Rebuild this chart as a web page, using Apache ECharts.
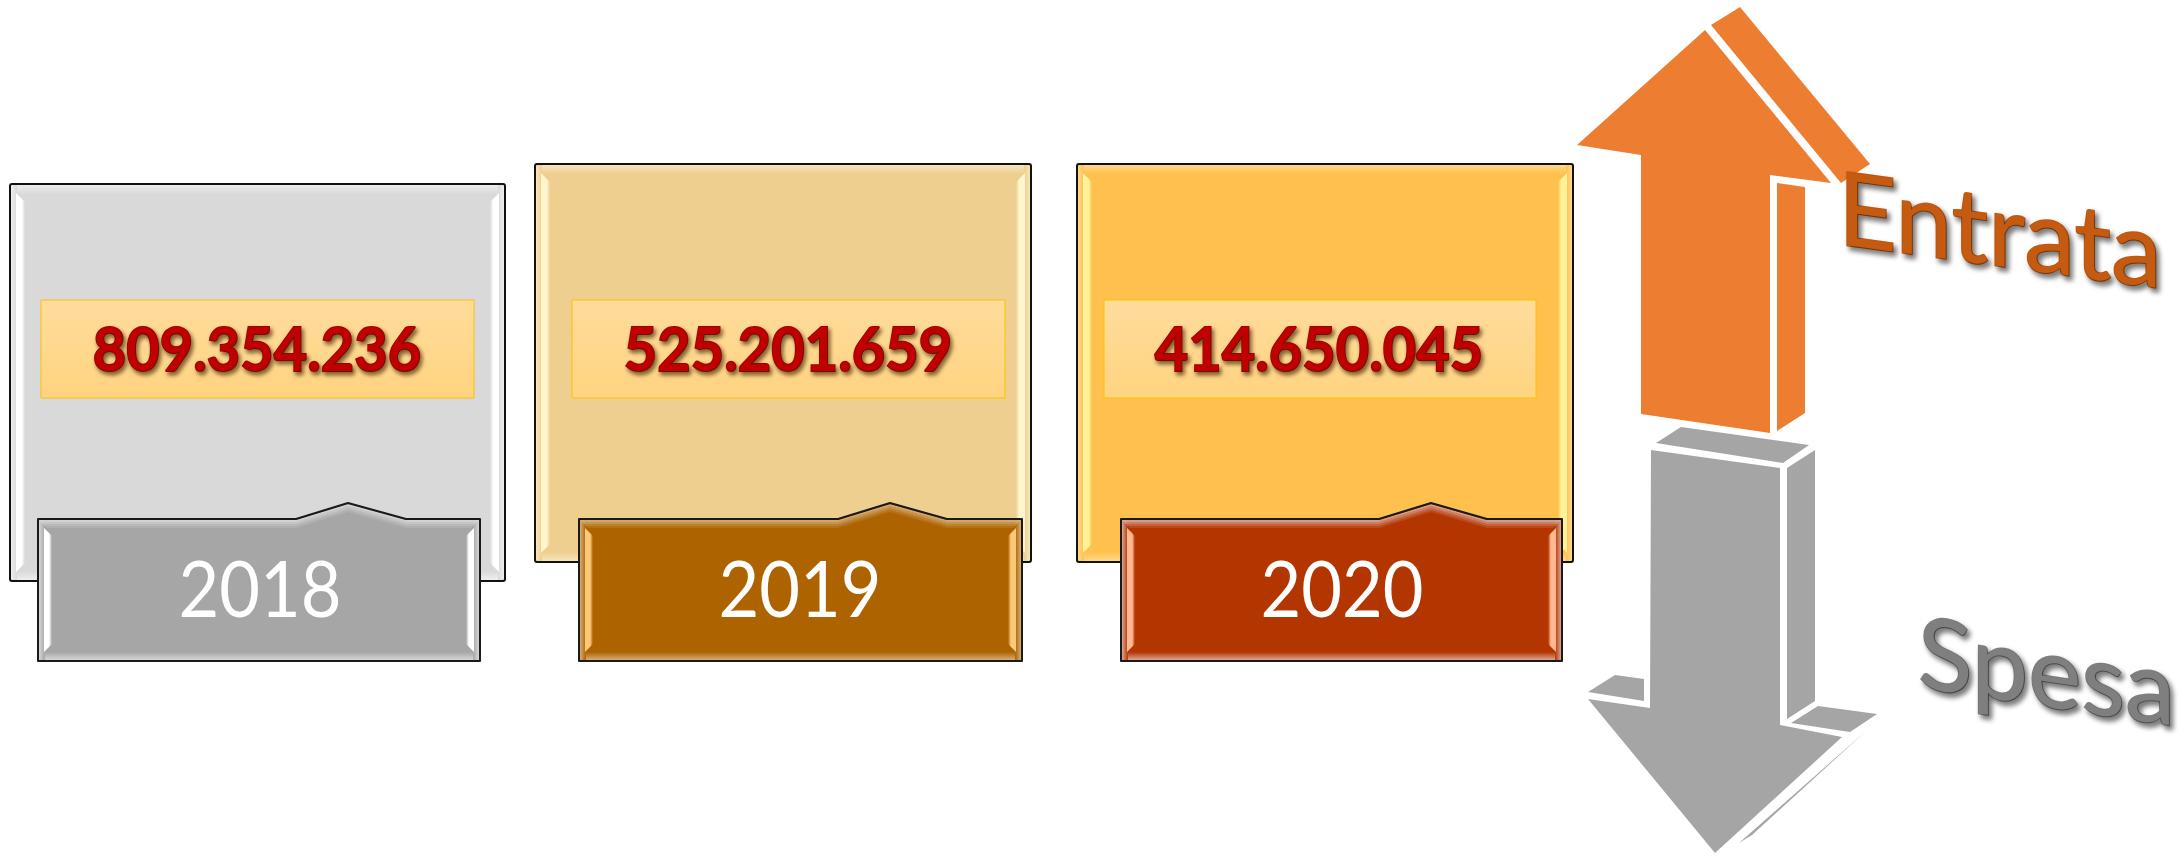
<!DOCTYPE html>
<html>
<head>
<meta charset="utf-8">
<style>html,body{margin:0;background:#fff}#main{width:2182px;height:857px}</style>
<script src="https://cdn.jsdelivr.net/npm/echarts@6/dist/echarts.min.js"></script>
</head>
<body>
<div id="main"></div>
<script>
// dati
var years = ['2018', '2019', '2020'];
var totals = ['809.354.236', '525.201.659', '414.650.045'];
var entrataLabel = 'Entrata';
var spesaLabel = 'Spesa';

// posizioni dei riquadri
var cards = [
    {x: 10, y: 184, w: 495, h: 397, base: '#d9d9d9', edge: '#eeeeee', strip: '#ffffff', box: [41, 300, 433, 98], tag: [38, 519, 442, 142], notch: [296, 348, 406], tagBase: '#a6a6a6', tagEdge: '#d6d6d6', tagStrip: '#ffffff', textX: 257, yearX: 260},
    {x: 535, y: 164, w: 496, h: 398, base: '#eecf8f', edge: '#f7e5bd', strip: '#fff6cf', box: [572, 300, 433, 98], tag: [579, 519, 443, 142], notch: [838, 890, 947], tagBase: '#ad6400', tagEdge: '#d6ad78', tagStrip: '#fbc878', textX: 788, yearX: 800},
    {x: 1077, y: 164, w: 496, h: 398, base: '#ffc14d', edge: '#ffd98a', strip: '#fff29a', box: [1104, 300, 432, 98], tag: [1121, 519, 441, 142], notch: [1379, 1431, 1487], tagBase: '#b33600', tagEdge: '#dba595', tagStrip: '#ffb890', textX: 1319, yearX: 1342}
];

var orange = '#ed7d31';
var grey = '#a5a5a5';
var arrowUp = [
    [[1705, 30], [1577, 145], [1641, 155], [1641, 414], [1770, 433], [1770, 175], [1831, 183]],
    [[1711, 25], [1740, 7], [1870, 164], [1841, 183]],
    [[1777, 183], [1805, 187], [1805, 413], [1777, 431]]
];
var arrowDown = [
    [[1681, 427], [1809, 445], [1783, 463], [1656, 443]],
    [[1651, 450], [1780, 468], [1780, 725], [1842, 737], [1715, 853], [1588, 699], [1650, 708]],
    [[1787, 468], [1815, 450], [1815, 701], [1787, 719]],
    [[1588, 692], [1615, 675], [1644, 679], [1644, 701]],
    [[1791, 723], [1818, 706], [1877, 714], [1850, 732]],
    [[1866, 731], [1739, 843], [1752, 835]]
];

function vGrad(a, b) {
    return new echarts.graphic.LinearGradient(0, 0, 0, 1, [{offset: 0, color: a}, {offset: 1, color: b}]);
}
function hGrad(a, b) {
    return new echarts.graphic.LinearGradient(0, 0, 1, 0, [{offset: 0, color: a}, {offset: 1, color: b}]);
}
function stripGrad(strip, base, flip) {
    var stops = [{offset: 0, color: strip}, {offset: 0.65, color: strip}, {offset: 1, color: base}];
    return flip ? new echarts.graphic.LinearGradient(1, 0, 0, 0, stops) : new echarts.graphic.LinearGradient(0, 0, 1, 0, stops);
}
function rect(x, y, w, h, fill) {
    return {type: 'rect', silent: true, shape: {x: x, y: y, width: w, height: h}, style: {fill: fill}};
}
function poly(points, fill) {
    return {type: 'polygon', silent: true, shape: {points: points}, style: {fill: fill}};
}

// bordi chiari e listelli laterali
function bevel(x, y, w, h, base, edge, strip, band, sw, out, withTop) {
    var r = x + w, b = y + h;
    var list = [];
    if (withTop) {
        list.push(rect(x + 1, y + 1, w - 2, band, vGrad(edge, base)));
    }
    list.push(rect(x + 1, b - band - 1, w - 2, band, vGrad(base, edge)));
    list.push(rect(x + 1, y + 1, out, h - 2, hGrad(edge, base)));
    list.push(rect(r - out - 1, y + 1, out, h - 2, hGrad(base, edge)));
    list.push(poly([[x + out, y + 9], [x + out + sw, y + 9 + sw], [x + out + sw, b - 9 - sw], [x + out, b - 9]], stripGrad(strip, base, false)));
    list.push(poly([[r - out, y + 9], [r - out - sw, y + 9 + sw], [r - out - sw, b - 9 - sw], [r - out, b - 9]], stripGrad(strip, base, true)));
    return list;
}

var elements = [];

cards.forEach(function (c, i) {
    elements.push({type: 'rect', silent: true, shape: {x: c.x, y: c.y, width: c.w, height: c.h, r: 2}, style: {fill: c.base}});
    elements = elements.concat(bevel(c.x, c.y, c.w, c.h, c.base, c.edge, c.strip, 9, 9, 6, true));
    elements.push({type: 'rect', silent: true, shape: {x: c.x, y: c.y, width: c.w, height: c.h, r: 2}, style: {fill: 'none', stroke: '#111', lineWidth: 2}});

    // riquadro del totale
    elements.push({
        type: 'rect', silent: true,
        shape: {x: c.box[0], y: c.box[1], width: c.box[2], height: c.box[3]},
        style: {fill: vGrad('#ffdc9c', '#ffd480'), stroke: '#ffc000', lineWidth: 1}
    });
    elements.push({
        type: 'text', silent: true, x: c.textX, y: 351, scaleX: 0.93,
        style: {
            text: totals[i], fontFamily: 'Lato', fontWeight: 'bold', fontSize: 62,
            fill: '#c00000', stroke: '#a00000', lineWidth: 2, textAlign: 'center', textVerticalAlign: 'middle',
            textShadowColor: 'rgba(60,30,0,0.65)', textShadowBlur: 4, textShadowOffsetX: 2, textShadowOffsetY: 3,
            shadowColor: 'rgba(60,30,0,0.65)', shadowBlur: 4, shadowOffsetX: 2, shadowOffsetY: 3
        }
    });

    // etichetta dell'anno con la punta
    var t = c.tag, tx = t[0], ty = t[1], tw = t[2], th = t[3], n = c.notch;
    var outline = [[tx, ty], [n[0], ty], [n[1], ty - 16], [n[2], ty], [tx + tw, ty], [tx + tw, ty + th], [tx, ty + th]];
    elements.push({
        type: 'polygon', silent: true,
        shape: {points: outline},
        style: {fill: c.tagBase}
    });
    elements = elements.concat(bevel(tx, ty, tw, th, c.tagBase, c.tagEdge, c.tagStrip, 8, 8, 6, false));
    // alone chiaro lungo il bordo alto, segue la punta
    [[2, 0.9], [4, 0.65], [6, 0.4], [8, 0.18]].forEach(function (g) {
        var d = g[0];
        elements.push({
            type: 'polyline', silent: true,
            shape: {points: [[tx + d, ty + d], [n[0], ty + d], [n[1], ty - 16 + d], [n[2], ty + d], [tx + tw - d, ty + d]]},
            style: {fill: 'none', stroke: c.tagEdge, lineWidth: 2, opacity: g[1]}
        });
    });
    elements.push({
        type: 'polygon', silent: true,
        shape: {points: outline},
        style: {fill: 'none', stroke: '#1a1a1a', lineWidth: 2, lineJoin: 'round'}
    });
    elements.push({
        type: 'text', silent: true, x: c.yearX, y: 592, scaleX: 0.9,
        style: {text: years[i], fontFamily: 'Lato', fontSize: 78, fill: '#fff', textAlign: 'center', textVerticalAlign: 'middle'}
    });
});

// frecce
arrowUp.forEach(function (p) { elements.push(poly(p, orange)); });
arrowDown.forEach(function (p) { elements.push(poly(p, grey)); });

function slanted(label, x, y, size, sx, skew, color) {
    return {
        type: 'text', silent: true, x: x, y: y, scaleX: sx, skewY: skew,
        style: {
            text: label, fontFamily: 'Lato', fontSize: size, fill: color, stroke: color, lineWidth: 2, textAlign: 'left', textVerticalAlign: 'middle',
            textShadowColor: 'rgba(0,0,0,0.5)', textShadowBlur: 5, textShadowOffsetX: 3, textShadowOffsetY: 4,
            shadowColor: 'rgba(0,0,0,0.5)', shadowBlur: 5, shadowOffsetX: 3, shadowOffsetY: 4
        }
    };
}
elements.push(slanted(entrataLabel, 1838, 211, 102, 1, -0.137, '#c55a11'));
elements.push(slanted(spesaLabel, 1918, 655, 100, 1.01, -0.15, '#7f7f7f'));

var chart = echarts.init(document.getElementById('main'));
var option = {
    backgroundColor: '#fff',
    animation: false,
    graphic: {elements: elements}
};
chart.setOption(option);
</script>
</body>
</html>
